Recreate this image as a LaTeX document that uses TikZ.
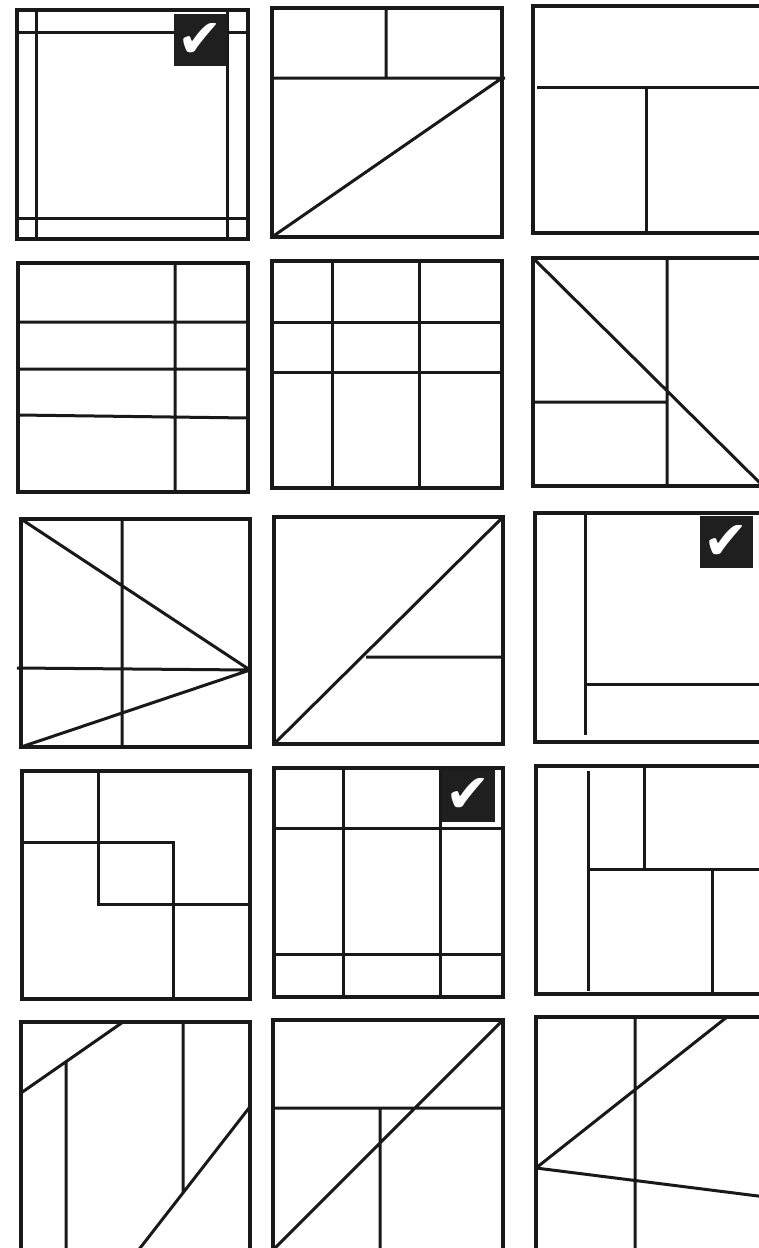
\documentclass[tikz,border=0pt]{standalone}
\usepackage{fontspec}
\newfontfamily\ticksymbol{DejaVu Sans}
\begin{document}
\begin{tikzpicture}[x=1pt,y=-1pt,line cap=butt,line join=miter,
    frame/.style={line width=3.4pt,draw=black!90},
    cut/.style={line width=3pt,draw=black!90},
    okbox/.style={fill=black!88,text=white,inner sep=0pt,minimum width=53pt,
      minimum height=52pt,font=\ticksymbol\fontsize{54}{54}\selectfont}]
    \useasboundingbox (0,0) rectangle (759,1248);
    % Row 1
    \draw[cut] (36,10) -- (36,239) (227,10) -- (227,239)
      (17,32) -- (250,32) (17,218) -- (248,218);
    \draw[frame] (17,10) rectangle (248,239);
    \node[okbox] (ok1) at (200.5,40) {✔};

    \draw[cut] (272,78) -- (505,78) (386,8) -- (386,78) (272,237) -- (502,78);
    \draw[frame] (272,8) rectangle (502,237);

    \draw[cut] (537,87) -- (763,87) (646,87) -- (646,233);
    \draw[frame] (533,6) rectangle (763,233);

    % Row 2
    \draw[cut] (175,263) -- (175,492) (18,322) -- (248,322)
      (18,369) -- (248,369) (18,415) -- (248,418);
    \draw[frame] (18,263) rectangle (248,492);

    \foreach \x in {332,419}
      \draw[cut] (\x,261) -- (\x,488);
    \foreach \y in {322,372}
      \draw[cut] (272,\y) -- (502,\y);
    \draw[frame] (272,261) rectangle (502,488);

    \draw[cut] (667,258) -- (667,486) (533,402) -- (667,402) (533,258) -- (763,486);
    \draw[frame] (533,258) rectangle (763,486);

    % Row 3
    \draw[cut] (122,519) -- (122,747) (17,668) -- (250,670)
      (21,519) -- (250,670) (21,747) -- (250,670);
    \draw[frame] (21,519) rectangle (250,747);

    \draw[cut] (274,744) -- (503,517) (366,657) -- (503,657);
    \draw[frame] (274,517) rectangle (503,744);

    \draw[cut] (585,511) -- (585,735) (585,684) -- (765,684);
    \draw[frame] (535,513) rectangle (765,742);
    \node[okbox] (ok2) at (726,542) {✔};

    % Row 4
    \draw[cut] (98,771) -- (98,904) -- (250,904) (22,842) -- (173,842) -- (173,999);
    \draw[frame] (22,771) rectangle (250,999);

    \foreach \x in {343,440}
      \draw[cut] (\x,768) -- (\x,997);
    \foreach \y in {828,954}
      \draw[cut] (274,\y) -- (503,\y);
    \draw[frame] (274,768) rectangle (503,997);
    \node[okbox] (ok3) at (468,795.5) {✔};

    \draw[cut] (588,771) -- (588,991) (644,766) -- (644,869)
      (588,869) -- (766,869) (712,869) -- (712,996);
    \draw[frame] (536,766) rectangle (766,994);

    % Row 5 (cut off by the page edge)
    \draw[cut] (21,1093) -- (123,1022) (66,1062) -- (66,1260)
      (183,1022) -- (183,1193) (249,1108) -- (137,1252);
    \draw[frame] (21,1022) rectangle (250,1252);

    \draw[cut] (273,1108) -- (503,1108) (503,1020) -- (273,1250)
      (380,1108) -- (380,1252);
    \draw[frame] (273,1020) rectangle (503,1250);

    \draw[cut] (635,1017) -- (635,1252) (536,1168) -- (727,1017)
      (536,1168) -- (766,1197);
    \draw[frame] (536,1017) rectangle (766,1250);
  \end{tikzpicture}
\end{document}
